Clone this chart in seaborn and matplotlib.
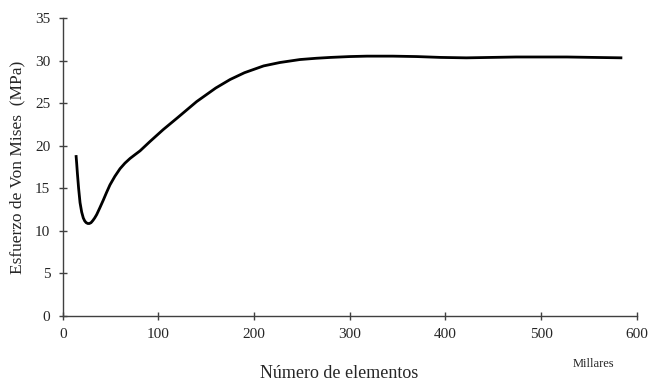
import matplotlib
matplotlib.use("Agg")
import matplotlib.pyplot as plt
import seaborn as sns
import pandas as pd

# Number of elements (thousands) vs Von Mises stress (MPa)
elementos = [13.9, 14.6, 15.3, 16.6, 18.1, 19.8, 21.5, 23.0, 24.5, 26.2,
             27.8, 29.6, 31.5, 33.4, 35.5, 38.8, 42.4, 45.8, 49.4, 54.5,
             59.9, 65.0, 70.3, 75.5, 80.8, 91.2, 105, 120, 140, 160,
             175, 190, 210, 227, 248, 265, 280, 300, 318, 345,
             370, 395, 422, 448, 474, 500, 527, 555, 585]
esfuerzo = [18.9, 17.9, 16.8, 15.0, 13.3, 12.2, 11.5, 11.15, 10.95, 10.85,
            10.85, 10.95, 11.2, 11.5, 11.9, 12.7, 13.6, 14.5, 15.4, 16.4,
            17.3, 17.95, 18.5, 18.95, 19.4, 20.5, 21.9, 23.3, 25.2, 26.8,
            27.8, 28.6, 29.4, 29.8, 30.15, 30.3, 30.4, 30.5, 30.55, 30.55,
            30.5, 30.4, 30.35, 30.4, 30.45, 30.45, 30.45, 30.4, 30.35]

x_ticks = [0, 100, 200, 300, 400, 500, 600]
y_ticks = [0, 5, 10, 15, 20, 25, 30, 35]

df = pd.DataFrame({"elementos": elementos, "esfuerzo": esfuerzo})

sns.set_style("white")
plt.rcParams["font.family"] = ["Liberation Serif", "DejaVu Serif"]

fig = plt.figure(figsize=(6.48, 3.82), dpi=100)
ax = fig.add_axes([0.0968, 0.1736, 0.8857, 0.7784])

sns.lineplot(data=df, x="elementos", y="esfuerzo", color="black",
             linewidth=2.0, ax=ax, solid_joinstyle="round",
             solid_capstyle="butt")

ax.set_xlim(0, 600)
ax.set_ylim(0, 35)
ax.set_xticks(x_ticks)
ax.set_yticks(y_ticks)
ax.tick_params(bottom=True, left=True, direction="inout", length=6,
               width=1, color="#404040", labelsize=11)
ax.tick_params(axis="x", pad=6)
ax.tick_params(axis="y", pad=6)

for side in ["top", "right"]:
    ax.spines[side].set_visible(False)
for side in ["left", "bottom"]:
    ax.spines[side].set_color("#404040")
    ax.spines[side].set_linewidth(1.0)

ax.set_xlabel("")
ax.set_ylabel("")
fig.text(17 / 648, 1 - 167 / 382, "Esfuerzo de Von Mises  (MPa)",
         rotation=90, ha="center", va="center", fontsize=12.5)
fig.text(339 / 648, 1 - 374 / 382, "Número de elementos", ha="center",
         va="center", fontsize=13)
fig.text(593 / 648, 1 - 364 / 382, "Millares", ha="center", va="center",
         fontsize=9)

fig.savefig("out.png", dpi=100)
